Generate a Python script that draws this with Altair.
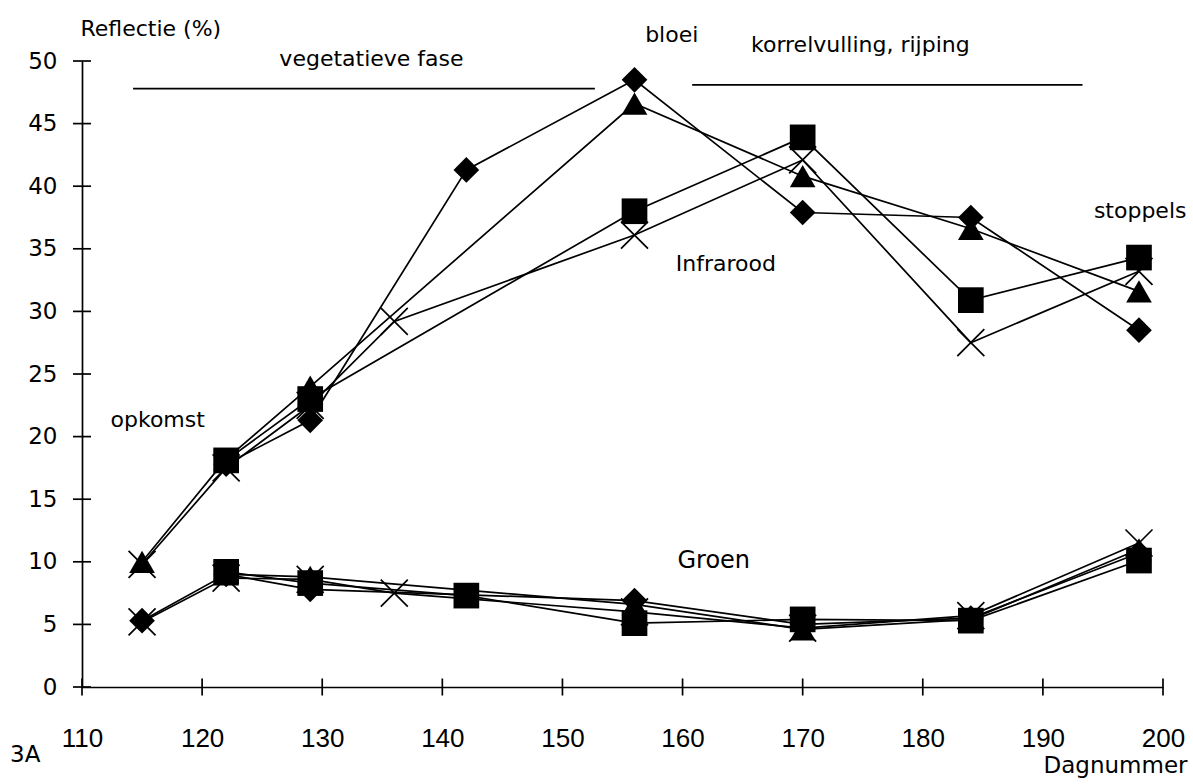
import altair as alt
import pandas as pd

# Day numbers and reflectance (%) per field plot; infrared band
ir_triangle_days = [115, 122, 129, 156, 170, 184, 198]
ir_triangle_vals = [10.0, 18.2, 24.0, 46.6, 40.8, 36.6, 31.6]
ir_cross_days = [115, 122, 129, 136, 156, 170, 184, 198]
ir_cross_vals = [9.8, 17.5, 22.5, 29.2, 36.1, 42.1, 27.5, 33.2]
ir_diamond_days = [122, 129, 142, 156, 170, 184, 198]
ir_diamond_vals = [17.8, 21.3, 41.3, 48.5, 37.9, 37.5, 28.5]
ir_square_days = [122, 129, 156, 170, 184, 198]
ir_square_vals = [18.1, 23.0, 38.0, 43.9, 30.9, 34.3]

# Green band
gr_diamond_days = [115, 122, 129, 156, 170, 184, 198]
gr_diamond_vals = [5.3, 9.0, 7.8, 6.9, 5.0, 5.5, 10.7]
gr_cross_days = [115, 122, 129, 136, 156, 170, 184, 198]
gr_cross_vals = [5.2, 8.7, 8.6, 7.5, 6.0, 4.7, 5.7, 11.5]
gr_square_days = [122, 129, 142, 156, 170, 184, 198]
gr_square_vals = [9.2, 8.3, 7.3, 5.1, 5.4, 5.3, 10.1]
gr_triangle_days = [122, 129, 156, 170, 184, 198]
gr_triangle_vals = [9.0, 8.8, 6.6, 4.6, 5.4, 11.0]

# Axis ticks
x_ticks = [110, 120, 130, 140, 150, 160, 170, 180, 190, 200]
y_ticks = [0, 5, 10, 15, 20, 25, 30, 35, 40, 45, 50]

# Growth-phase bars
phase_start = [114.25, 160.8]
phase_end = [152.7, 193.3]
phase_level = [47.8, 48.1]

# Annotations
note_text = ["vegetatieve fase", "bloei", "korrelvulling, rijping", "opkomst",
             "Infrarood", "Groen", "stoppels"]
note_day = [134.1, 159.1, 174.8, 116.3, 163.6, 162.6, 198.1]
note_val = [49.6, 51.5, 50.7, 20.8, 33.25, 9.5, 37.5]
note_size = [22, 22, 22, 22, 22, 24, 22]

series = [
    ("ir_triangle", "triangle-up", ir_triangle_days, ir_triangle_vals),
    ("ir_cross", "cross", ir_cross_days, ir_cross_vals),
    ("ir_diamond", "diamond", ir_diamond_days, ir_diamond_vals),
    ("ir_square", "square", ir_square_days, ir_square_vals),
    ("gr_diamond", "diamond", gr_diamond_days, gr_diamond_vals),
    ("gr_cross", "cross", gr_cross_days, gr_cross_vals),
    ("gr_square", "square", gr_square_days, gr_square_vals),
    ("gr_triangle", "triangle-up", gr_triangle_days, gr_triangle_vals),
]
rows = []
for name, marker, days, vals in series:
    for d, v in zip(days, vals):
        rows.append({"series": name, "marker": marker, "day": d, "value": v})
df = pd.DataFrame(rows)

FONT = "DejaVu Sans"
X_CROSS = "M-1,-1L1,1M-1,1L1,-1"

x_scale = alt.Scale(domain=[110, 200], nice=False, zero=False)
y_scale = alt.Scale(domain=[0, 50], nice=False)
x_axis = alt.Axis(
    values=x_ticks, format="d", title="Dagnummer", ticks=False, grid=False,
    labelFont="Liberation Sans", labelFontSize=26, labelPadding=38,
    labelColor="black", labelFlush=False, domainColor="black", domainWidth=1.7,
    titleFont=FONT, titleFontSize=23, titleFontWeight="normal",
    titleColor="black", titleAlign="right", titleX=1105, titleY=85,
    titleBaseline="alphabetic",
)
y_axis = alt.Axis(
    values=y_ticks, title="Reflectie (%)", ticks=False, grid=False,
    labelFont=FONT, labelFontSize=23, labelPadding=25, labelColor="black",
    labelFlush=False, domainColor="black", domainWidth=1.7,
    titleFont=FONT, titleFontSize=22, titleFontWeight="normal",
    titleColor="black", titleAngle=0, titleAlign="left",
    titleX=-2, titleY=-26, titleBaseline="alphabetic",
)
x_enc = alt.X("day:Q", scale=x_scale, axis=x_axis)
y_enc = alt.Y("value:Q", scale=y_scale, axis=y_axis)

lines = alt.Chart(df).mark_line(color="black", strokeWidth=1.7).encode(
    x=x_enc, y=y_enc, detail="series:N"
)

crosses = (
    alt.Chart(df)
    .transform_filter(alt.datum.marker == "cross")
    .mark_point(shape=X_CROSS, filled=False, color="black", strokeWidth=1.7,
                size=729, opacity=1)
    .encode(x=x_enc, y=y_enc)
)

solids = (
    alt.Chart(df)
    .transform_filter(alt.datum.marker != "cross")
    .mark_point(filled=True, color="black", size=660, opacity=1)
    .encode(x=x_enc, y=y_enc, shape=alt.Shape("marker:N", scale=None, legend=None))
)

phases = alt.Chart(
    pd.DataFrame({"day": phase_start, "day2": phase_end, "value": phase_level})
).mark_rule(color="black", strokeWidth=1.8).encode(x=x_enc, x2="day2:Q", y=y_enc)

xt = alt.Chart(pd.DataFrame({"day": x_ticks})).mark_tick(
    orient="vertical", size=17, thickness=1.7, color="black", opacity=1
).encode(x=x_enc, y=alt.datum(0))

yt = alt.Chart(pd.DataFrame({"value": y_ticks})).mark_tick(
    orient="horizontal", size=18, thickness=1.7, color="black", opacity=1
).encode(y=y_enc, x=alt.datum(110))

notes = alt.Chart(
    pd.DataFrame({"day": note_day, "value": note_val, "label": note_text, "fs": note_size})
).mark_text(font=FONT, align="center", baseline="alphabetic", color="black").encode(
    x=x_enc, y=y_enc, text="label:N", size=alt.Size("fs:Q", scale=None, legend=None)
)

figure_id = alt.Chart(pd.DataFrame({"label": ["3A"]})).mark_text(
    font=FONT, fontSize=23, align="left", baseline="alphabetic", color="black"
).encode(x=alt.value(-72), y=alt.value(701), text="label:N")

chart = (
    alt.layer(lines, phases, crosses, solids, xt, yt, notes, figure_id)
    .properties(
        width=1081, height=626,
        padding={"left": 82, "top": 61, "right": 30, "bottom": 97},
        autosize=alt.AutoSizeParams(type="none"),
        background="white",
    )
    .configure_view(stroke=None)
)

chart.save("out.html", embed_options={"renderer": "svg", "actions": False})
